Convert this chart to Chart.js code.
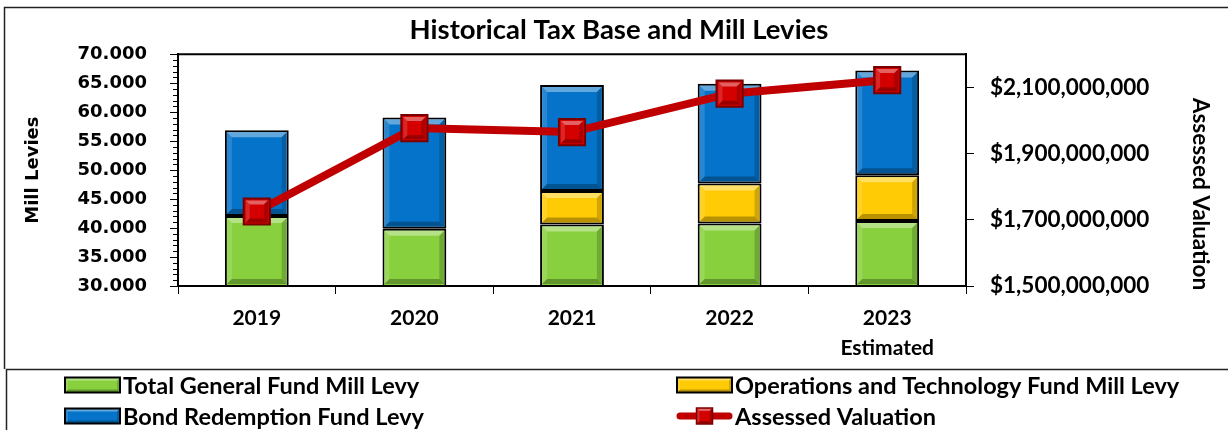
<!DOCTYPE html>
<html>
<head>
<meta charset="utf-8">
<script src="https://cdn.jsdelivr.net/npm/chart.js@4.4.1/dist/chart.umd.min.js"></script>
<style>
  html, body { margin: 0; padding: 0; background: #fff; }
  #wrap { position: relative; width: 1228px; height: 430px; }
</style>
</head>
<body>
<div id="wrap"><canvas id="taxChart"></canvas></div>
<script>
// values
const years = ["2019", "2020", "2021", "2022", ["2023", "Estimated"]];
const generalFund = [42.1, 39.9, 40.6, 40.8, 41.2];
const opsTechFund = [null, null, 5.8, 6.9, 7.9];
const bondFund = [14.8, 19.2, 18.3, 17.2, 18.1];
const assessedValuation = [1725000000, 1977000000, 1965000000, 2081000000, 2122000000];

const millTicks = [30, 35, 40, 45, 50, 55, 60, 65, 70];
const valuationTicks = [1500000000, 1700000000, 1900000000, 2100000000];

const calibri = "Lato, 'Open Sans', sans-serif";
const verdana = "'DejaVu Sans', Verdana, sans-serif";

// excel style bevel on a rectangle
function bevel(ctx, x0, y0, x1, y1, b) {
  b = Math.min(b, (x1 - x0) / 2, (y1 - y0) / 2);
  if (b <= 0) return;
  const quad = (pts, fill) => {
    ctx.beginPath();
    ctx.moveTo(pts[0], pts[1]);
    for (let i = 2; i < pts.length; i += 2) ctx.lineTo(pts[i], pts[i + 1]);
    ctx.closePath();
    ctx.fillStyle = fill;
    ctx.fill();
  };
  quad([x0, y0, x1, y0, x1 - b, y0 + b, x0 + b, y0 + b], "rgba(255,255,255,0.38)");
  quad([x0, y0, x0 + b, y0 + b, x0 + b, y1 - b, x0, y1], "rgba(255,255,255,0.15)");
  quad([x0, y1, x0 + b, y1 - b, x1 - b, y1 - b, x1, y1], "rgba(0,0,0,0.28)");
  quad([x1, y0, x1, y1, x1 - b, y1 - b, x1 - b, y0 + b], "rgba(0,0,0,0.18)");
}

const decor = {
  id: "decor",
  afterDatasetDraw(chart, args) {
    const ctx = chart.ctx;
    const area = chart.chartArea;
    const meta = args.meta;
    const ds = chart.data.datasets[args.index];
    ctx.save();
    if (meta.type === "bar") {
      meta.data.forEach((el, i) => {
        if (ds.data[i] == null) return;
        const p = el.getProps(["x", "y", "base", "width"], true);
        const bw = ds.borderWidth;
        const x0 = p.x - p.width / 2 + bw, x1 = p.x + p.width / 2 - bw;
        const y0 = Math.min(p.y, p.base) + bw;
        const y1 = Math.min(Math.max(p.y, p.base), area.bottom) - bw;
        bevel(ctx, x0, y0, x1, y1, 5);
      });
    } else {
      meta.data.forEach((el) => {
        const h = ds.pointRadius * Math.SQRT1_2 - ds.pointBorderWidth;
        bevel(ctx, el.x - h, el.y - h, el.x + h, el.y + h, 4);
      });
    }
    ctx.restore();
  },
  afterDraw(chart) {
    const ctx = chart.ctx;
    const area = chart.chartArea;
    const yScale = chart.scales.y;
    ctx.save();

    // plot area frame
    ctx.strokeStyle = "#000";
    ctx.lineWidth = 2;
    ctx.strokeRect(area.left, area.top, area.right - area.left, area.bottom - area.top);

    // minor ticks on the mill levy axis
    ctx.lineWidth = 1;
    for (let v = yScale.min; v <= yScale.max; v++) {
      if (v % 5 === 0) continue;
      const py = Math.round(yScale.getPixelForValue(v)) + 0.5;
      ctx.beginPath();
      ctx.moveTo(area.left - 5, py);
      ctx.lineTo(area.left, py);
      ctx.stroke();
    }

    // outer chart border and legend box
    ctx.strokeStyle = "#222";
    ctx.lineWidth = 1.5;
    ctx.beginPath();
    ctx.moveTo(1228, 7.5); ctx.lineTo(4.5, 7.5); ctx.lineTo(4.5, 369);
    ctx.moveTo(1228, 369.5); ctx.lineTo(6.5, 369.5); ctx.lineTo(6.5, 430);
    ctx.stroke();

    // right axis title
    ctx.fillStyle = "#000";
    ctx.font = "bold 22.5px " + calibri;
    ctx.textAlign = "center";
    ctx.textBaseline = "middle";
    ctx.translate(1200, 194);
    ctx.rotate(Math.PI / 2);
    ctx.fillText("Assessed Valuation", 0, 0);
    ctx.setTransform(1, 0, 0, 1, 0, 0);

    // legend
    const ds = chart.data.datasets;
    const items = [
      { d: ds[0], x: 65, y: 385 },
      { d: ds[1], x: 677, y: 385 },
      { d: ds[2], x: 65, y: 416 },
      { d: ds[3], x: 677, y: 416 }
    ];
    ctx.font = "bold 23.5px " + calibri;
    ctx.textAlign = "left";
    items.forEach((it) => {
      const w = 55, h = 15;
      if (it.d.type === "line") {
        ctx.strokeStyle = it.d.borderColor;
        ctx.lineWidth = 7;
        ctx.lineCap = "round";
        ctx.beginPath();
        ctx.moveTo(it.x + 3, it.y); ctx.lineTo(it.x + w - 3, it.y);
        ctx.stroke();
        const s = 8;
        ctx.fillStyle = it.d.pointBackgroundColor;
        ctx.fillRect(it.x + w / 2 - s, it.y - s, 2 * s, 2 * s);
        bevel(ctx, it.x + w / 2 - s, it.y - s, it.x + w / 2 + s, it.y + s, 3);
        ctx.strokeStyle = it.d.pointBorderColor;
        ctx.lineWidth = 1.5;
        ctx.strokeRect(it.x + w / 2 - s, it.y - s, 2 * s, 2 * s);
      } else {
        ctx.fillStyle = it.d.backgroundColor;
        ctx.fillRect(it.x, it.y - h / 2, w, h);
        bevel(ctx, it.x, it.y - h / 2, it.x + w, it.y + h / 2, 3);
        ctx.strokeStyle = "#000";
        ctx.lineWidth = 2;
        ctx.strokeRect(it.x, it.y - h / 2, w, h);
      }
      ctx.fillStyle = "#000";
      ctx.fillText(it.d.label, it.x + w + 3, it.y + 1);
    });
    ctx.restore();
  }
};

const barStyle = { borderColor: "#000", borderWidth: 2, borderSkipped: false,
  barPercentage: 0.5, categoryPercentage: 0.81, stack: "mill", yAxisID: "y", order: 1 };

new Chart(document.getElementById("taxChart"), {
  type: "bar",
  data: {
    labels: years,
    datasets: [
      Object.assign({ label: "Total General Fund Mill Levy", data: generalFund, backgroundColor: "#88d03e" }, barStyle),
      Object.assign({ label: "Operations and Technology Fund Mill Levy", data: opsTechFund, backgroundColor: "#ffcb05" }, barStyle),
      Object.assign({ label: "Bond Redemption Fund Levy", data: bondFund, backgroundColor: "#0473c9" }, barStyle),
      {
        type: "line",
        label: "Assessed Valuation",
        data: assessedValuation,
        yAxisID: "y1",
        order: 0,
        borderColor: "#c00000",
        borderWidth: 8,
        tension: 0,
        pointStyle: "rect",
        pointRadius: 18.5,
        pointBorderWidth: 2,
        pointBackgroundColor: "#d40000",
        pointBorderColor: "#780000"
      }
    ]
  },
  options: {
    responsive: true,
    maintainAspectRatio: false,
    animation: false,
    layout: { padding: { left: 10, right: 0, top: 0, bottom: 60 } },
    plugins: {
      legend: { display: false },
      tooltip: { enabled: false },
      title: {
        display: true,
        text: "Historical Tax Base and Mill Levies",
        color: "#000",
        font: { family: calibri, size: 27.5, weight: "bold", lineHeight: 1.1 },
        padding: { top: 15, bottom: 9 }
      }
    },
    scales: {
      x: {
        stacked: true,
        grid: { offset: true, drawOnChartArea: false, tickLength: 8, color: "#000" },
        border: { color: "#000", width: 2 },
        ticks: {
          color: "#000",
          font: { family: calibri, size: 21, weight: "bold", lineHeight: 1.45 },
          padding: 9,
          maxRotation: 0,
          autoSkip: false
        },
        afterFit(s) { s.height = 84; }
      },
      y: {
        position: "left",
        stacked: true,
        min: 30,
        max: 70,
        afterBuildTicks(s) { s.ticks = millTicks.map((v) => ({ value: v })); },
        grid: { drawOnChartArea: false, tickLength: 8, color: "#000" },
        border: { color: "#000", width: 2 },
        ticks: {
          color: "#000",
          padding: 23,
          font: { family: verdana, size: 18, weight: "bold" },
          callback: (v) => Number(v).toFixed(3)
        },
        title: {
          display: true,
          text: "Mill Levies",
          color: "#000",
          font: { family: verdana, size: 18, weight: "bold" },
          padding: { top: 13, bottom: 0 }
        },
        afterFit(s) { s.width = 168; }
      },
      y1: {
        position: "right",
        min: 1500000000,
        max: 2200000000,
        afterBuildTicks(s) { s.ticks = valuationTicks.map((v) => ({ value: v })); },
        grid: { drawOnChartArea: false, tickLength: 8, color: "#000" },
        border: { color: "#000", width: 2 },
        ticks: {
          color: "#000",
          padding: 16,
          font: { family: calibri, size: 22.5, weight: "bold" },
          callback: (v) => "$" + Number(v).toLocaleString("en-US")
        },
        afterFit(s) { s.width = 262; }
      }
    }
  },
  plugins: [decor]
});
</script>
</body>
</html>
